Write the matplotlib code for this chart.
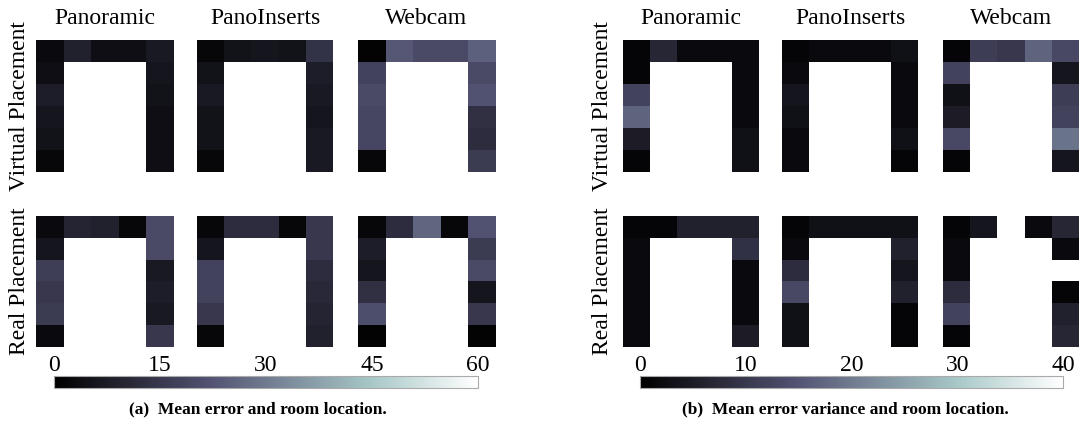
import numpy as np
import matplotlib
matplotlib.use("Agg")
import matplotlib.pyplot as plt
from matplotlib import colors

plt.rcParams['font.family'] = ['Liberation Serif', 'DejaVu Serif']

# room cells: top row (5, left->right), left wall (5, top->bottom), right wall (5, top->bottom)
methods = ["Panoramic", "PanoInserts", "Webcam"]
rows = ["Virtual Placement", "Real Placement"]

# (a) mean error, scale 0-60
a_virtual_panoramic = [3, 9, 4, 4, 7, 4, 8, 6, 5, 2, 6, 5, 4, 4, 4]
a_virtual_panoinserts = [2, 5, 6, 5, 14, 5, 7, 5, 5, 2, 8, 7, 6, 7, 7]
a_virtual_webcam = [1, 23, 20, 20, 25, 18, 20, 19, 19, 2, 20, 22, 13, 12, 16]
a_real_panoramic = [3, 10, 9, 2, 20, 6, 17, 15, 16, 3, 20, 7, 8, 7, 15]
a_real_panoinserts = [2, 12, 12, 2, 15, 6, 18, 18, 15, 2, 15, 12, 11, 10, 9]
a_real_webcam = [2, 12, 26, 2, 22, 8, 6, 13, 21, 1, 16, 20, 6, 15, 1]

# (b) mean error variance, scale 0-40 (nan = no data)
b_virtual_panoramic = [1, 7, 2, 2, 2, 1, 12, 17, 5, 1, 2, 2, 2, 3, 3]
b_virtual_panoinserts = [1, 2, 2, 2, 3, 2, 4, 3, 2, 2, 2, 2, 2, 3, 1]
b_virtual_webcam = [1, 11, 10, 17, 13, 12, 3, 5, 13, 1, 4, 11, 12, 19, 4]
b_real_panoramic = [1, 1, 6, 6, 6, 2, 2, 2, 2, 2, 9, 2, 2, 2, 5]
b_real_panoinserts = [1, 3, 3, 3, 3, 2, 8, 13, 3, 3, 6, 4, 6, 1, 1]
b_real_webcam = [1, 4, np.nan, 2, 7, 2, 2, 8, 12, 1, 2, np.nan, 1, 6, 7]

a_ticks = [0, 15, 30, 45, 60]
b_ticks = [0, 10, 20, 30, 40]

W, H = 1080, 426


def to_grid(vals):
    g = np.full((6, 5), np.nan)
    g[0, :] = vals[0:5]
    g[1:, 0] = vals[5:10]
    g[1:, 4] = vals[10:15]
    return g


def fig_rect(x0, y0, x1, y1):
    # pixel box (top-left origin) -> figure fraction
    return [x0 / W, 1 - y1 / H, (x1 - x0) / W, (y1 - y0) / H]


cmap = plt.cm.bone.copy()
cmap.set_bad('white')

fig = plt.figure(figsize=(10.8, 4.26), dpi=100)


def draw_panel(col_x, data, ticks, cbar_x, ylab_x, caption, cap_x):
    norm = colors.Normalize(vmin=ticks[0], vmax=ticks[-1])
    row_y = [(40, 172), (216, 347)]
    for r, (y0, y1) in enumerate(row_y):
        for c, (x0, x1) in enumerate(col_x):
            ax = fig.add_axes(fig_rect(x0, y0, x1, y1))
            im = ax.imshow(to_grid(data[r][c]), cmap=cmap, norm=norm,
                           aspect='auto', interpolation='nearest')
            ax.axis('off')
            if r == 0:
                fig.text((x0 + x1) / 2 / W, 1 - 19 / H, methods[c],
                         ha='center', va='center', fontsize=17)
        fig.text(ylab_x / W, 1 - (y0 + y1) / 2 / H, rows[r], rotation=90,
                 ha='center', va='center', fontsize=17)

    cax = fig.add_axes(fig_rect(cbar_x[0], 376, cbar_x[1], 388))
    cb = fig.colorbar(im, cax=cax, orientation='horizontal', ticks=ticks)
    cax.xaxis.set_ticks_position('top')
    cax.tick_params(length=0, pad=0, labelsize=17)
    cb.outline.set_edgecolor('#aaaaaa')
    cb.outline.set_linewidth(0.8)
    fig.text(cap_x / W, 1 - 409 / H, caption, ha='center', va='center',
             fontsize=12.5, fontweight='bold')


draw_panel([(36, 174), (197, 333), (358, 495)],
           [[a_virtual_panoramic, a_virtual_panoinserts, a_virtual_webcam],
            [a_real_panoramic, a_real_panoinserts, a_real_webcam]],
           a_ticks, (54, 478), 20, "(a)  Mean error and room location.", 258)

draw_panel([(623, 759), (782, 918), (943, 1079)],
           [[b_virtual_panoramic, b_virtual_panoinserts, b_virtual_webcam],
            [b_real_panoramic, b_real_panoinserts, b_real_webcam]],
           b_ticks, (640, 1063), 603, "(b)  Mean error variance and room location.", 845)

fig.savefig("out.png", dpi=100)
